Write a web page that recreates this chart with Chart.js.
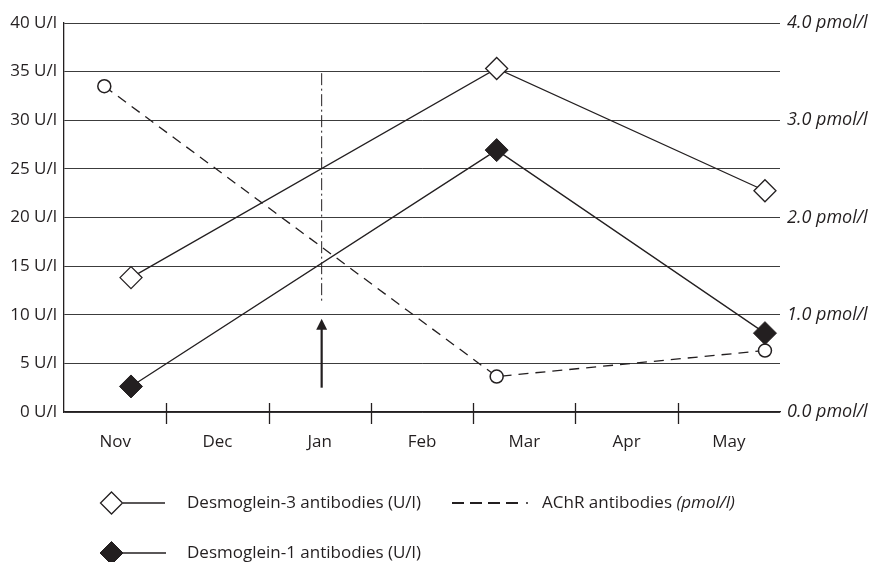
<!DOCTYPE html>
<html><head><meta charset="utf-8">
<script src="https://cdn.jsdelivr.net/npm/chart.js@4.4.1/dist/chart.umd.min.js"></script>
<style>
html,body{margin:0;padding:0;background:#fff;}
#wrap{position:relative;width:875px;height:562px;overflow:hidden;font-family:"Open Sans",sans-serif;color:#231f20;}
#chart{position:absolute;left:0;top:0;}
.lt{position:absolute;font-size:17px;line-height:20px;white-space:nowrap;}
.ls{position:absolute;}
</style></head><body>
<div id="wrap">
<canvas id="chart" width="875" height="562"></canvas>
<svg class="ls" style="left:96px;top:490px" width="75" height="26"><line x1="27" y1="13" x2="69" y2="13" stroke="#231f20" stroke-width="1.3"/><polygon points="15.5,2 26.5,13 15.5,24 4.5,13" fill="#fff" stroke="#231f20" stroke-width="1.3"/></svg>
<div class="lt" style="left:187px;top:492px">Desmoglein-3 antibodies (U/l)</div>
<svg class="ls" style="left:452px;top:490px" width="80" height="26"><line x1="0" y1="13" x2="66" y2="13" stroke="#231f20" stroke-width="2" stroke-dasharray="12,6"/><circle cx="75" cy="13" r="1" fill="#231f20"/></svg>
<div class="lt" style="left:542px;top:492px">AChR antibodies <i>(pmol/l)</i></div>
<svg class="ls" style="left:96px;top:540px" width="75" height="26"><line x1="27" y1="13" x2="70" y2="13" stroke="#231f20" stroke-width="1.3"/><polygon points="15.5,1.5 27,13 15.5,24.5 4,13" fill="#231f20" stroke="#231f20" stroke-width="1"/></svg>
<div class="lt" style="left:187px;top:542px">Desmoglein-1 antibodies (U/l)</div>
</div>
<script>
const months = ['Nov','Dec','Jan','Feb','Mar','Apr','May'];
const dsgX = [0.655, 4.23, 6.853];
const achrX = [0.394, 4.23, 6.853];
const dsg3 = [13.82, 35.32, 22.75];
const dsg1 = [2.63, 26.93, 8.11];
const achr = [3.35, 0.365, 0.632];
const leftMax = 40, leftStep = 5;
const rightMax = 4, rightStep = 1;
const treatX = 2.519;
const treatLine = [34.84, 11.22];
const arrowFrom = 2.5, arrowTo = 9.58;

const ink = '#231f20';
const pts = (xs, ys) => xs.map((x, i) => ({x, y: ys[i]}));

const tickPlugin = {
  id: 'monthTicks',
  afterDraw(chart) {
    const {ctx, scales: {x}, chartArea} = chart;
    ctx.save();
    ctx.strokeStyle = ink; ctx.lineWidth = 1.3;
    for (let i = 1; i < months.length; i++) {
      const px = Math.round(x.getPixelForValue(i)) + 0.5;
      ctx.beginPath(); ctx.moveTo(px, chartArea.bottom - 9); ctx.lineTo(px, chartArea.bottom + 12); ctx.stroke();
    }
    ctx.restore();
  }
};
const arrowPlugin = {
  id: 'arrow',
  afterDatasetsDraw(chart) {
    const {ctx, scales: {x, y}} = chart;
    const px = x.getPixelForValue(treatX);
    const y0 = y.getPixelForValue(arrowFrom), y1 = y.getPixelForValue(arrowTo);
    ctx.save();
    ctx.strokeStyle = ink; ctx.fillStyle = ink; ctx.lineWidth = 2.2;
    ctx.beginPath(); ctx.moveTo(px, y0); ctx.lineTo(px, y1 + 8); ctx.stroke();
    ctx.beginPath(); ctx.moveTo(px, y1); ctx.lineTo(px + 5.5, y1 + 11); ctx.lineTo(px - 5.5, y1 + 11); ctx.closePath(); ctx.fill();
    ctx.restore();
  }
};

new Chart(document.getElementById('chart'), {
  type: 'line',
  data: {
    datasets: [
      {label: 'Desmoglein-3 antibodies (U/l)', data: pts(dsgX, dsg3), yAxisID: 'y',
       borderColor: ink, borderWidth: 1.3, pointStyle: 'rectRot', pointRadius: 11,
       pointBackgroundColor: '#fff', pointBorderColor: ink, pointBorderWidth: 1.3},
      {label: 'Desmoglein-1 antibodies (U/l)', data: pts(dsgX, dsg1), yAxisID: 'y',
       borderColor: ink, borderWidth: 1.3, pointStyle: 'rectRot', pointRadius: 11.5,
       pointBackgroundColor: ink, pointBorderColor: ink, pointBorderWidth: 1},
      {label: 'AChR antibodies (pmol/l)', data: pts(achrX, achr), yAxisID: 'y1',
       borderColor: ink, borderWidth: 1.3, borderDash: [10, 7], pointStyle: 'circle', pointRadius: 6.5,
       pointBackgroundColor: '#fff', pointBorderColor: ink, pointBorderWidth: 1.5},
      {label: 'treatment', data: [{x: treatX, y: treatLine[0]}, {x: treatX, y: treatLine[1]}], yAxisID: 'y',
       borderColor: ink, borderWidth: 1, borderDash: [12, 3.5, 2, 3.5], pointRadius: 0}
    ]
  },
  options: {
    responsive: false,
    animation: false,
    events: [],
    layout: {padding: {top: 23, left: 0, right: 0, bottom: 110}},
    plugins: {legend: {display: false}, tooltip: {enabled: false}},
    scales: {
      x: {
        type: 'linear', min: 0, max: months.length,
        afterBuildTicks: s => { s.ticks = []; for (let i = 0; i <= months.length * 2; i++) s.ticks.push({value: i / 2}); },
        ticks: {autoSkip: false, maxRotation: 0, color: ink, font: {family: 'Open Sans', size: 17}, padding: 8,
                callback: v => (Math.abs(v % 1 - 0.5) < 1e-6 ? months[Math.floor(v)] : '')},
        grid: {drawOnChartArea: false, drawTicks: true, tickLength: 12, color: 'rgba(0,0,0,0)'},
        border: {display: true, color: ink, width: 1.3},
        afterFit: s => { s.height = 40; }
      },
      y: {
        position: 'left', min: 0, max: leftMax,
        ticks: {stepSize: leftStep, color: ink, font: {family: 'Open Sans', size: 17}, padding: 7,
                callback: v => v + ' U/l'},
        grid: {color: '#3c3c3c', lineWidth: 1, drawTicks: false},
        border: {display: true, color: ink, width: 1.3},
        afterFit: s => { s.width = 64; }
      },
      y1: {
        position: 'right', min: 0, max: rightMax,
        ticks: {stepSize: rightStep, color: ink, font: {family: 'Open Sans', size: 18, style: 'italic'}, padding: 7,
                callback: v => v.toFixed(1) + ' pmol/l'},
        grid: {display: false, drawTicks: false},
        border: {display: false},
        afterFit: s => { s.width = 95; }
      }
    }
  },
  plugins: [tickPlugin, arrowPlugin]
});
</script>
</body></html>
